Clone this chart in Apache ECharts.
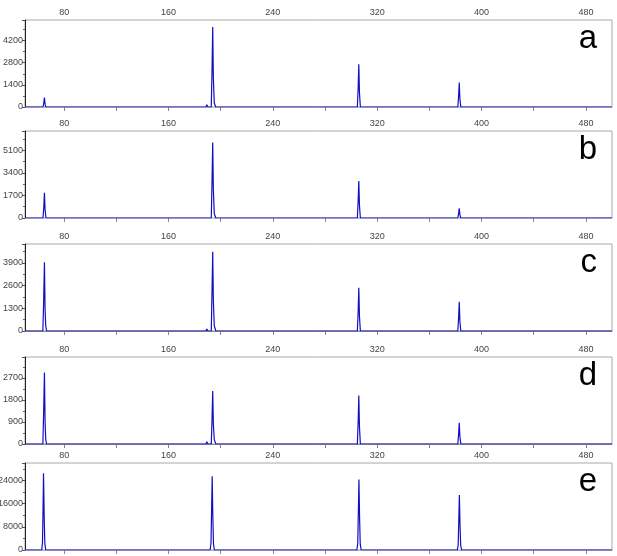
<!DOCTYPE html>
<html>
<head>
<meta charset="utf-8">
<script src="https://cdn.jsdelivr.net/npm/echarts@6/dist/echarts.min.js"></script>
<style>
  html, body { margin: 0; padding: 0; background: #fff; }
  #main { width: 617px; height: 556px; }
</style>
</head>
<body>
<div id="main"></div>
<script>
// 공통 x축 (bp)
var xTickValues = [80, 120, 160, 200, 240, 280, 320, 360, 400, 440, 480];
var xLabelValues = [80, 160, 240, 320, 400, 480];

// 패널 이름
var panelNames = ['a', 'b', 'c', 'd', 'e'];

// y축 최대값 / 눈금 간격
var yMaxes = [5500, 6550, 4980, 3550, 30000];
var yIntervals = [1400, 1700, 1300, 900, 8000];

// 각 패널 트레이스 [x, 신호]
var traceA = [[50, 0], [63.8, 0], [64.4, 250], [64.9, 600], [65.4, 180], [66, 0],
  [188.6, 0], [189.4, 140], [190.2, 0], [192.8, 0], [193.4, 2400], [193.9, 5050], [194.4, 1800],
  [195.1, 250], [195.6, 150], [196.2, 0], [197, 0], [304.8, 0], [305.4, 1200], [305.9, 2700], [306.4, 900],
  [307.1, 0], [381.8, 0], [382.4, 700], [382.9, 1550], [383.4, 500], [384.1, 0], [500, 0]];

var traceB = [[50, 0], [63.8, 0], [64.4, 800], [64.9, 1900], [65.4, 600], [66.1, 0],
  [188.6, 0], [189.4, 150], [190.2, 0], [192.8, 0], [193.4, 2900], [193.9, 5690], [194.4, 2100],
  [195.1, 320], [195.6, 200], [196.3, 0], [304.8, 0], [305.4, 1300], [305.9, 2790], [306.4, 950],
  [307.1, 0], [381.8, 0], [382.4, 330], [382.9, 730], [383.4, 250], [384.1, 0], [500, 0]];

var traceC = [[50, 0], [63.7, 0], [64.3, 1700], [64.9, 3940], [65.4, 1200], [65.9, 300], [66.5, 0],
  [71.4, 0], [72, 60], [72.8, 0], [188.6, 0], [189.4, 120], [190.2, 0], [192.8, 0], [193.4, 2400],
  [193.9, 4540], [194.4, 1700], [195.1, 300], [195.6, 250], [196.3, 0], [304.8, 0], [305.4, 1100],
  [305.9, 2480], [306.4, 850], [307.1, 0], [381.8, 0], [382.4, 750], [382.9, 1675], [383.4, 550],
  [384.1, 0], [500, 0]];

var traceD = [[50, 0], [63.7, 0], [64.3, 1300], [64.9, 2920], [65.4, 900], [65.9, 200], [66.5, 0],
  [75, 0], [75.6, 50], [76.3, 0], [188.6, 0], [189.4, 90], [190.2, 0], [192.8, 0], [193.4, 1050],
  [193.9, 2160], [194.4, 800], [195.1, 180], [195.6, 150], [196.3, 0], [304.8, 0], [305.4, 900],
  [305.9, 1975], [306.4, 700], [307.1, 0], [381.8, 0], [382.4, 400], [382.9, 863], [383.4, 300],
  [384.1, 0], [500, 0]];

var traceE = [[50, 0], [62.8, 0], [63.4, 2500], [63.8, 13000], [64.2, 26500], [64.7, 12000],
  [65.2, 2200], [65.9, 0], [191.9, 0], [192.6, 2400], [193, 12500], [193.5, 25400], [194, 11500],
  [194.5, 2100], [195.2, 0], [304.4, 0], [305.1, 2300], [305.5, 12000], [306, 24300], [306.5, 11000],
  [307, 2000], [307.7, 0], [381.4, 0], [382.1, 1800], [382.5, 9500], [383, 19000], [383.5, 8500],
  [384, 1600], [384.7, 0], [500, 0]];

var traces = [traceA, traceB, traceC, traceD, traceE];

// 레이아웃
var gridTops = [20, 131, 244, 357, 463];
var gridHeight = 87;
var topLineColors = ['#bbbbbb', '#c4c4c4', '#8c8c8c', '#8c8c8c', '#b0b0b0'];

var chart = echarts.init(document.getElementById('main'));

var grids = [], xAxes = [], yAxes = [], series = [], graphics = [];
for (var i = 0; i < 5; i++) {
  grids.push({
    left: 25, right: 5, top: gridTops[i], height: gridHeight,
    outerBoundsMode: 'none', containLabel: false,
    show: true, borderColor: '#a8a8a8', borderWidth: 1, backgroundColor: '#fff'
  });
  xAxes.push({
    gridIndex: i, type: 'value', position: 'top', min: 50, max: 500,
    axisLine: { show: true, lineStyle: { color: topLineColors[i], width: 1 } },
    axisTick: { show: true, inside: true, length: 4, customValues: xTickValues,
      lineStyle: { color: '#888' } },
    axisLabel: { customValues: xLabelValues, fontSize: 9, color: '#444', margin: 3,
      fontFamily: 'Liberation Sans' },
    splitLine: { show: false }
  });
  yAxes.push({
    gridIndex: i, type: 'value', min: 0, max: yMaxes[i], interval: yIntervals[i],
    axisLine: { show: true, lineStyle: { color: '#222', width: 1 } },
    axisTick: { show: true, length: 3, lineStyle: { color: '#555' } },
    minorTick: { show: true, splitNumber: 2, length: 2, lineStyle: { color: '#666' } },
    axisLabel: { fontSize: 9, color: '#444', margin: 2, showMaxLabel: false,
      fontFamily: 'Liberation Sans', formatter: function (v) { return String(v); } },
    splitLine: { show: false }
  });
  series.push({
    type: 'line', xAxisIndex: i, yAxisIndex: i, data: traces[i],
    showSymbol: false, symbol: 'none', animation: false, sampling: null,
    lineStyle: { color: '#1010c0', width: 1.2 }
  });
  graphics.push({
    type: 'text', right: 20, top: gridTops[i] + 2,
    style: { text: panelNames[i], fontSize: 33, fill: '#000', fontFamily: 'Liberation Sans' }
  });
}

option = {
  animation: false,
  backgroundColor: '#fff',
  grid: grids,
  xAxis: xAxes,
  yAxis: yAxes,
  series: series,
  graphic: graphics
};

chart.setOption(option);
</script>
</body>
</html>
